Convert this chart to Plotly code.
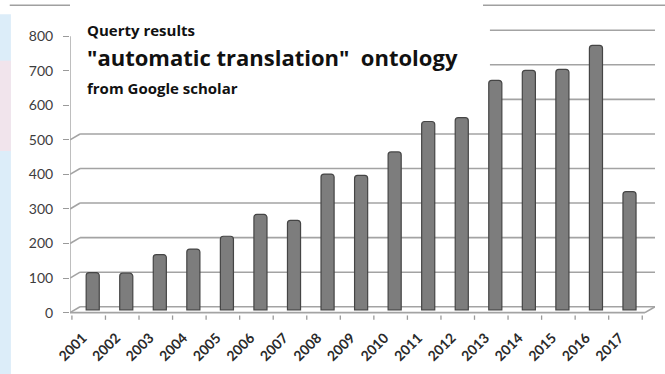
import plotly.graph_objects as go

years = [str(y) for y in range(2001, 2018)]
counts = [108, 106, 160, 176, 213, 276, 259, 393, 389, 457, 545, 556, 664, 693, 696, 765, 342]
y_ticks = [0, 100, 200, 300, 400, 500, 600, 700, 800]

title_lines = ["Querty results", "\"automatic translation\"  ontology", "from Google scholar"]

FONT = "Lato, 'Open Sans', sans-serif"
TFONT = "'Open Sans', Lato, sans-serif"

# pseudo-3D offsets (in value units): front edge slightly below, back wall slightly above
FRONT = -8
BACK = 9
N = len(years)
X0, X1 = -0.677, N - 1 + 0.76   # category range of the plot area
DX = 0.30                        # depth shift in category units

grid_col = "#a3a3a3"
shapes = []
# back-wall gridlines + slanted side connectors
for v in y_ticks:
    shapes.append(dict(type="line", xref="x", yref="y", x0=X0 + DX, x1=X1,
                       y0=v + BACK, y1=v + BACK, layer="between",
                       line=dict(color=grid_col, width=1.6)))
    shapes.append(dict(type="line", xref="x", yref="y", x0=X0, x1=X0 + DX,
                       y0=v + FRONT, y1=v + BACK, layer="between",
                       line=dict(color=grid_col, width=1.6)))
# front floor edge and right slant
shapes.append(dict(type="line", xref="x", yref="y", x0=X0, x1=X1 - DX,
                   y0=FRONT, y1=FRONT, layer="between",
                   line=dict(color=grid_col, width=1.6)))
shapes.append(dict(type="line", xref="x", yref="y", x0=X1 - DX, x1=X1,
                   y0=FRONT, y1=BACK, layer="between",
                   line=dict(color=grid_col, width=1.6)))
# white box behind the title (hides the upper gridlines)
shapes.append(dict(type="rect", xref="x", yref="y", x0=X0 - 0.05, x1=11.84, y0=545, y1=860,
                   layer="between", line=dict(width=0), fillcolor="white"))
# front value axis line
shapes.append(dict(type="line", xref="x", yref="y", x0=X0, x1=X0,
                   y0=FRONT, y1=y_ticks[-1] + FRONT, layer="above",
                   line=dict(color="#a8a8a8", width=1.5)))
# slide background decorations
shapes.append(dict(type="rect", xref="paper", yref="paper", x0=-0.125, x1=-0.101, y0=-0.3, y1=1.03,
                   layer="below", line=dict(width=0), fillcolor="#dcedf9"))
shapes.append(dict(type="rect", xref="paper", yref="paper", x0=-0.125, x1=-0.101, y0=0.56, y1=0.87,
                   layer="below", line=dict(width=0), fillcolor="#f1e4ec"))
shapes.append(dict(type="line", xref="paper", yref="paper", x0=-0.103, x1=0.0, y0=1.061, y1=1.061,
                   line=dict(color="#a0a0a0", width=1.5)))
shapes.append(dict(type="line", xref="paper", yref="paper", x0=0.706, x1=1.02, y0=1.061, y1=1.061,
                   line=dict(color="#a0a0a0", width=1.5)))

fig = go.Figure()
fig.add_trace(go.Bar(
    x=list(range(N)), y=counts,
    width=0.39,
    marker=dict(color="#7d7d7d", line=dict(color="#454545", width=1.2), cornerradius=3),
    showlegend=False,
))

fig.update_layout(
    width=665, height=374,
    margin=dict(l=70, r=10, t=23, b=60),
    paper_bgcolor="white",
    plot_bgcolor="white",
    font=dict(family=FONT, color="#3a3a3a"),
    xaxis=dict(
        range=[X0, X1],
        tickvals=list(range(N)),
        ticktext=years,
        tickangle=-45,
        tickfont=dict(size=14, color="#2a2a2a", weight="bold"),
        ticks="", showline=False, showgrid=False, zeroline=False,
        ticklabelshift=-10, ticklabelstandoff=12,
        automargin=False,
    ),
    yaxis=dict(
        range=[-12, 830],
        tickvals=[v + FRONT for v in y_ticks],
        ticktext=[str(v) for v in y_ticks],
        tickfont=dict(size=14, color="#3d3d3d"),
        ticks="outside", ticklen=6, tickcolor="#9a9a9a", tickwidth=1.3,
        ticklabelstandoff=7,
        showline=False, showgrid=False, zeroline=False,
        automargin=False,
    ),
    shapes=shapes,
)

# x tick marks at category boundaries along the front floor edge
for k in range(N + 1):
    fig.add_shape(type="line", xref="x", yref="paper", x0=k - 0.62, x1=k - 0.62,
                  y0=-0.005, y1=-0.02, line=dict(color="#9a9a9a", width=1.3))

sizes = [15, 22, 15]
ys = [0.975, 0.883, 0.776]
for txt, s, yy in zip(title_lines, sizes, ys):
    fig.add_annotation(
        text="<b>" + txt + "</b>", xref="paper", yref="paper",
        x=0.0256, y=yy, xanchor="left", yanchor="middle",
        showarrow=False, font=dict(size=s, color="#111111", family=TFONT),
    )

fig.write_html("out.html")
